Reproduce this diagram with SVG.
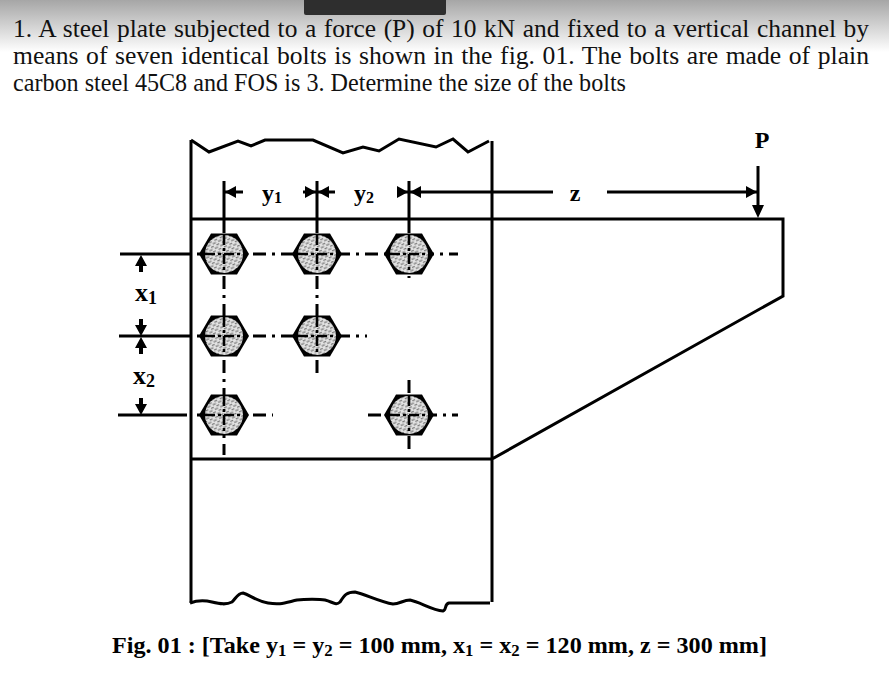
<svg xmlns="http://www.w3.org/2000/svg" width="889" height="678" viewBox="0 0 889 678">
<style>
.t{font-family:"Liberation Serif","Times New Roman",serif;font-size:25px;fill:#111}
.b{font-family:"Liberation Serif","Times New Roman",serif;font-weight:bold;fill:#000}
.l{fill:none;stroke:#000;stroke-width:3}
.c{fill:none;stroke:#000;stroke-width:3;stroke-dasharray:13 6 3 6}
.a{fill:#000}
</style>
<defs>
<linearGradient id="top" x1="0" y1="0" x2="0" y2="1"><stop offset="0" stop-color="#a6a6a6"/><stop offset="1" stop-color="#ffffff"/></linearGradient>
<pattern id="h" width="6" height="5" patternUnits="userSpaceOnUse" patternTransform="rotate(-25)"><rect width="6" height="5" fill="#e2e2e2"/><path d="M0 1.2H3.5M3 3.7H6" stroke="#7a7a7a" stroke-width="1.2"/></pattern>
<g id="bolt">
<path d="M-25 0L-13 -20.5H13L25 0L13 20.5H-13Z" fill="#000"/>
<circle r="19" fill="url(#h)"/>
<path d="M0 -19V19M-19 0H19" stroke="#000" stroke-width="2.6" stroke-dasharray="10 3 3 3"/>
</g>
<path id="au" d="M0 0L-6 11H-2V17H2V11H6Z"/>
</defs>
<rect width="889" height="678" fill="#fff"/>
<rect width="889" height="52" fill="url(#top)"/>
<rect x="304" y="-4" width="142" height="19" rx="2" fill="#2e2e2e"/>
<text class="t" x="13" y="37" textLength="856" lengthAdjust="spacingAndGlyphs" word-spacing="1.2">1. A steel plate subjected to a force (P) of 10 kN and fixed to a vertical channel by</text>
<text class="t" x="13" y="64" textLength="856" lengthAdjust="spacingAndGlyphs" word-spacing="1.2">means of seven identical bolts is shown in the fig. 01. The bolts are made of plain</text>
<text class="t" x="13" y="91" textLength="613" lengthAdjust="spacingAndGlyphs">carbon steel 45C8 and FOS is 3. Determine the size of the bolts</text>

<g id="plate">
<path class="l" d="M191 140V603M492 141V602M191 219H783V296L492 459H191"/>
<path class="l" d="M191 140L209 152L238 141L251 146L265 140H313L343 153L363 147L379 151L399 139L436 147L453 139L468 152L489 141"/>
<path class="l" d="M190 603C198 600 204 600 212 602C220 604 226 605 232 602C236 598 238 593 243 593C250 595 256 601 268 603C280 605 284 603 297 600C305 599 320 599 325 600C333 602 336 606 340 602C344 596 346 592 355 592C365 594 380 602 393 604C400 604 403 600 410 600C420 602 432 610 443 611C447 610 444 604 449 603H490"/>
</g>
<g id="connectors">
<path class="c" d="M197 254H458M197 336H367M197 415H273M368 415H458M224 220V455M317 220V378M409 220V278M409 380V455"/>
<path class="l" d="M120 254H191M119 336H191M118 415H187"/>
<path class="l" d="M224 181V219M317 181V219M409 181V219M758 166V208"/>
<path class="l" d="M224 192H243M303 192H335M397 192H553M607 192H758"/>
<use href="#au" class="a" x="141" y="255"/>
<use href="#au" class="a" transform="translate(141 336) scale(1 -1)"/>
<use href="#au" class="a" x="141" y="337"/>
<use href="#au" class="a" transform="translate(141 415) scale(1 -1)"/>
<path class="a" d="M225 192L236 186V198ZM316 192L305 186V198ZM318 192L329 186V198ZM408 192L397 186V198ZM410 192L421 186V198ZM757 192L746 186V198ZM758 218L752 205H764Z"/>
</g>
<g id="bolt-1"><use href="#bolt" x="224" y="254"/></g>
<g id="bolt-2"><use href="#bolt" x="317" y="254"/></g>
<g id="bolt-3"><use href="#bolt" x="409" y="254"/></g>
<g id="bolt-4"><use href="#bolt" x="224" y="336"/></g>
<g id="bolt-5"><use href="#bolt" x="317" y="336"/></g>
<g id="bolt-6"><use href="#bolt" x="224" y="415"/></g>
<g id="bolt-7"><use href="#bolt" x="409" y="415"/></g>
<g id="labels">
<text class="b" x="762" y="148" font-size="24" text-anchor="middle">P</text>
<text class="b" x="262" y="201" font-size="24">y<tspan font-size="16" dy="2">1</tspan></text>
<text class="b" x="354" y="201" font-size="24">y<tspan font-size="16" dy="2">2</tspan></text>
<text class="b" x="575" y="201" font-size="24" text-anchor="middle">z</text>
<text class="b" x="135" y="301" font-size="26">x<tspan font-size="18" dy="3">1</tspan></text>
<text class="b" x="133" y="384" font-size="26">x<tspan font-size="18" dy="3">2</tspan></text>
</g>
<text class="b" x="112" y="653" font-size="23" textLength="655" lengthAdjust="spacingAndGlyphs">Fig. 01 : [Take y<tspan font-size="16" dy="3">1</tspan><tspan dy="-3"> = y</tspan><tspan font-size="16" dy="3">2</tspan><tspan dy="-3"> = 100 mm, x</tspan><tspan font-size="16" dy="3">1</tspan><tspan dy="-3"> = x</tspan><tspan font-size="16" dy="3">2</tspan><tspan dy="-3"> = 120 mm, z = 300 mm]</tspan></text>
</svg>
